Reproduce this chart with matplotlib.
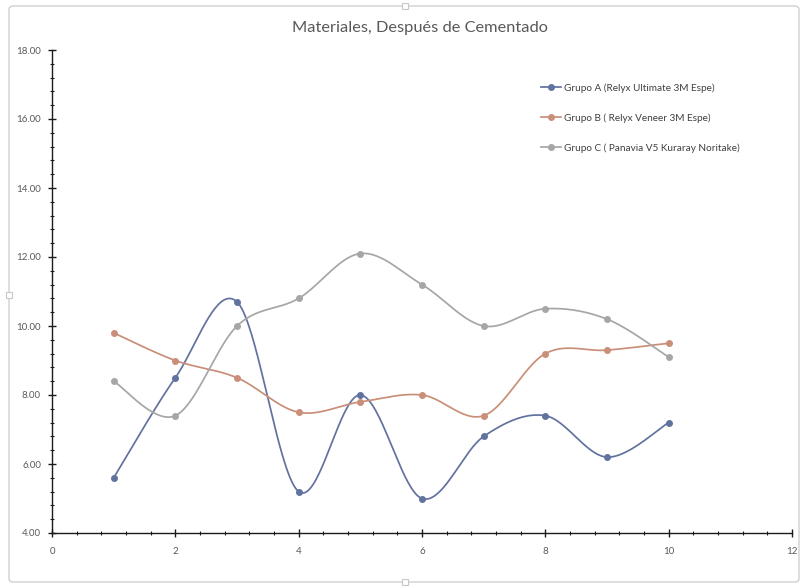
import numpy as np
import matplotlib.pyplot as plt
from matplotlib.patches import FancyBboxPatch, Rectangle
from matplotlib.ticker import MultipleLocator, FormatStrFormatter

# Resistencia por muestra, después de cementado
muestras = [1, 2, 3, 4, 5, 6, 7, 8, 9, 10]
grupo_a = [5.6, 8.5, 10.7, 5.2, 8.0, 5.0, 6.8, 7.4, 6.2, 7.2]
grupo_b = [9.8, 9.0, 8.5, 7.5, 7.8, 8.0, 7.4, 9.2, 9.3, 9.5]
grupo_c = [8.4, 7.4, 10.0, 10.8, 12.1, 11.2, 10.0, 10.5, 10.2, 9.1]

etiquetas = ["Grupo A (Relyx Ultimate 3M Espe)",
             "Grupo B ( Relyx Veneer 3M Espe)",
             "Grupo C ( Panavia V5 Kuraray Noritake)"]
colores = ["#62729f", "#c98f78", "#a6a6a6"]
titulo = "Materiales, Después de Cementado"

plt.rcParams['font.family'] = ['Lato', 'DejaVu Sans']


def suavizar(x, y, n=40):
    """Curva suave tipo Excel (Bezier cúbico con tangentes Catmull-Rom)."""
    p = np.column_stack([x, y]).astype(float)
    p_ext = np.vstack([p[0], p, p[-1]])
    out = []
    for i in range(len(p) - 1):
        p0, p1, p2, p3 = p_ext[i], p_ext[i + 1], p_ext[i + 2], p_ext[i + 3]
        c1 = p1 + (p2 - p0) / 6.0
        c2 = p2 - (p3 - p1) / 6.0
        t = np.linspace(0, 1, n)[:, None]
        seg = ((1 - t) ** 3) * p1 + 3 * ((1 - t) ** 2) * t * c1 \
            + 3 * (1 - t) * t ** 2 * c2 + t ** 3 * p2
        out.append(seg if i == 0 else seg[1:])
    c = np.vstack(out)
    return c[:, 0], c[:, 1]


fig = plt.figure(figsize=(8.02, 5.88), dpi=100)
ax = fig.add_axes([52 / 802, 55 / 588, 740 / 802, 483 / 588])

for serie, etiqueta, color in zip([grupo_a, grupo_b, grupo_c], etiquetas, colores):
    xs, ys = suavizar(muestras, serie)
    ax.plot(xs, ys, color=color, lw=1.25, solid_capstyle='round', zorder=2)
    ax.plot(muestras, serie, 'o', color=color, ms=4.0, zorder=3)
    ax.plot([], [], '-o', color=color, lw=1.25, ms=4.0, label=etiqueta)

ax.set_xlim(0, 12)
ax.set_ylim(4, 18)
ax.xaxis.set_major_locator(MultipleLocator(2))
ax.xaxis.set_minor_locator(MultipleLocator(0.4))
ax.yaxis.set_major_locator(MultipleLocator(2))
ax.yaxis.set_minor_locator(MultipleLocator(0.4))
ax.yaxis.set_major_formatter(FormatStrFormatter('%.2f'))

for lado in ['top', 'right']:
    ax.spines[lado].set_visible(False)
for lado in ['left', 'bottom']:
    ax.spines[lado].set_color('#1a1a1a')
    ax.spines[lado].set_linewidth(1.0)

ax.tick_params(which='major', direction='inout', length=6, width=1.0,
               color='#1a1a1a', labelsize=7, labelcolor='#595959')
ax.tick_params(which='minor', direction='inout', length=3, width=0.8,
               color='#1a1a1a')
ax.tick_params(axis='y', pad=5)
ax.tick_params(axis='x', pad=7)

fig.text(420 / 802, 1 - 28 / 588, titulo, ha='center', va='center',
         fontsize=11.8, color='#595959')

ax.legend(loc='upper left', bbox_to_anchor=(541 / 802, 1 - 83 / 588),
          bbox_transform=fig.transFigure, frameon=False, fontsize=7.2,
          labelcolor='#404040', handlelength=2.0, handletextpad=0.25,
          labelspacing=2.05, borderaxespad=0, borderpad=0)

# marco del gráfico con asas de selección
marco = FancyBboxPatch((9 / 802, 6 / 588), 790 / 802, 576 / 588,
                       boxstyle='round,pad=0,rounding_size=0.006',
                       transform=fig.transFigure, fill=False,
                       edgecolor='#d0d0d0', lw=1.0, zorder=0)
fig.patches.append(marco)
for (hx, hy) in [(405, 6), (405, 582), (9, 295)]:
    fig.patches.append(Rectangle(((hx - 3) / 802, 1 - (hy + 3) / 588), 6 / 802, 6 / 588,
                                 transform=fig.transFigure, facecolor='white',
                                 edgecolor='#c8c8c8', lw=0.8))

fig.savefig('out.png', dpi=100)
